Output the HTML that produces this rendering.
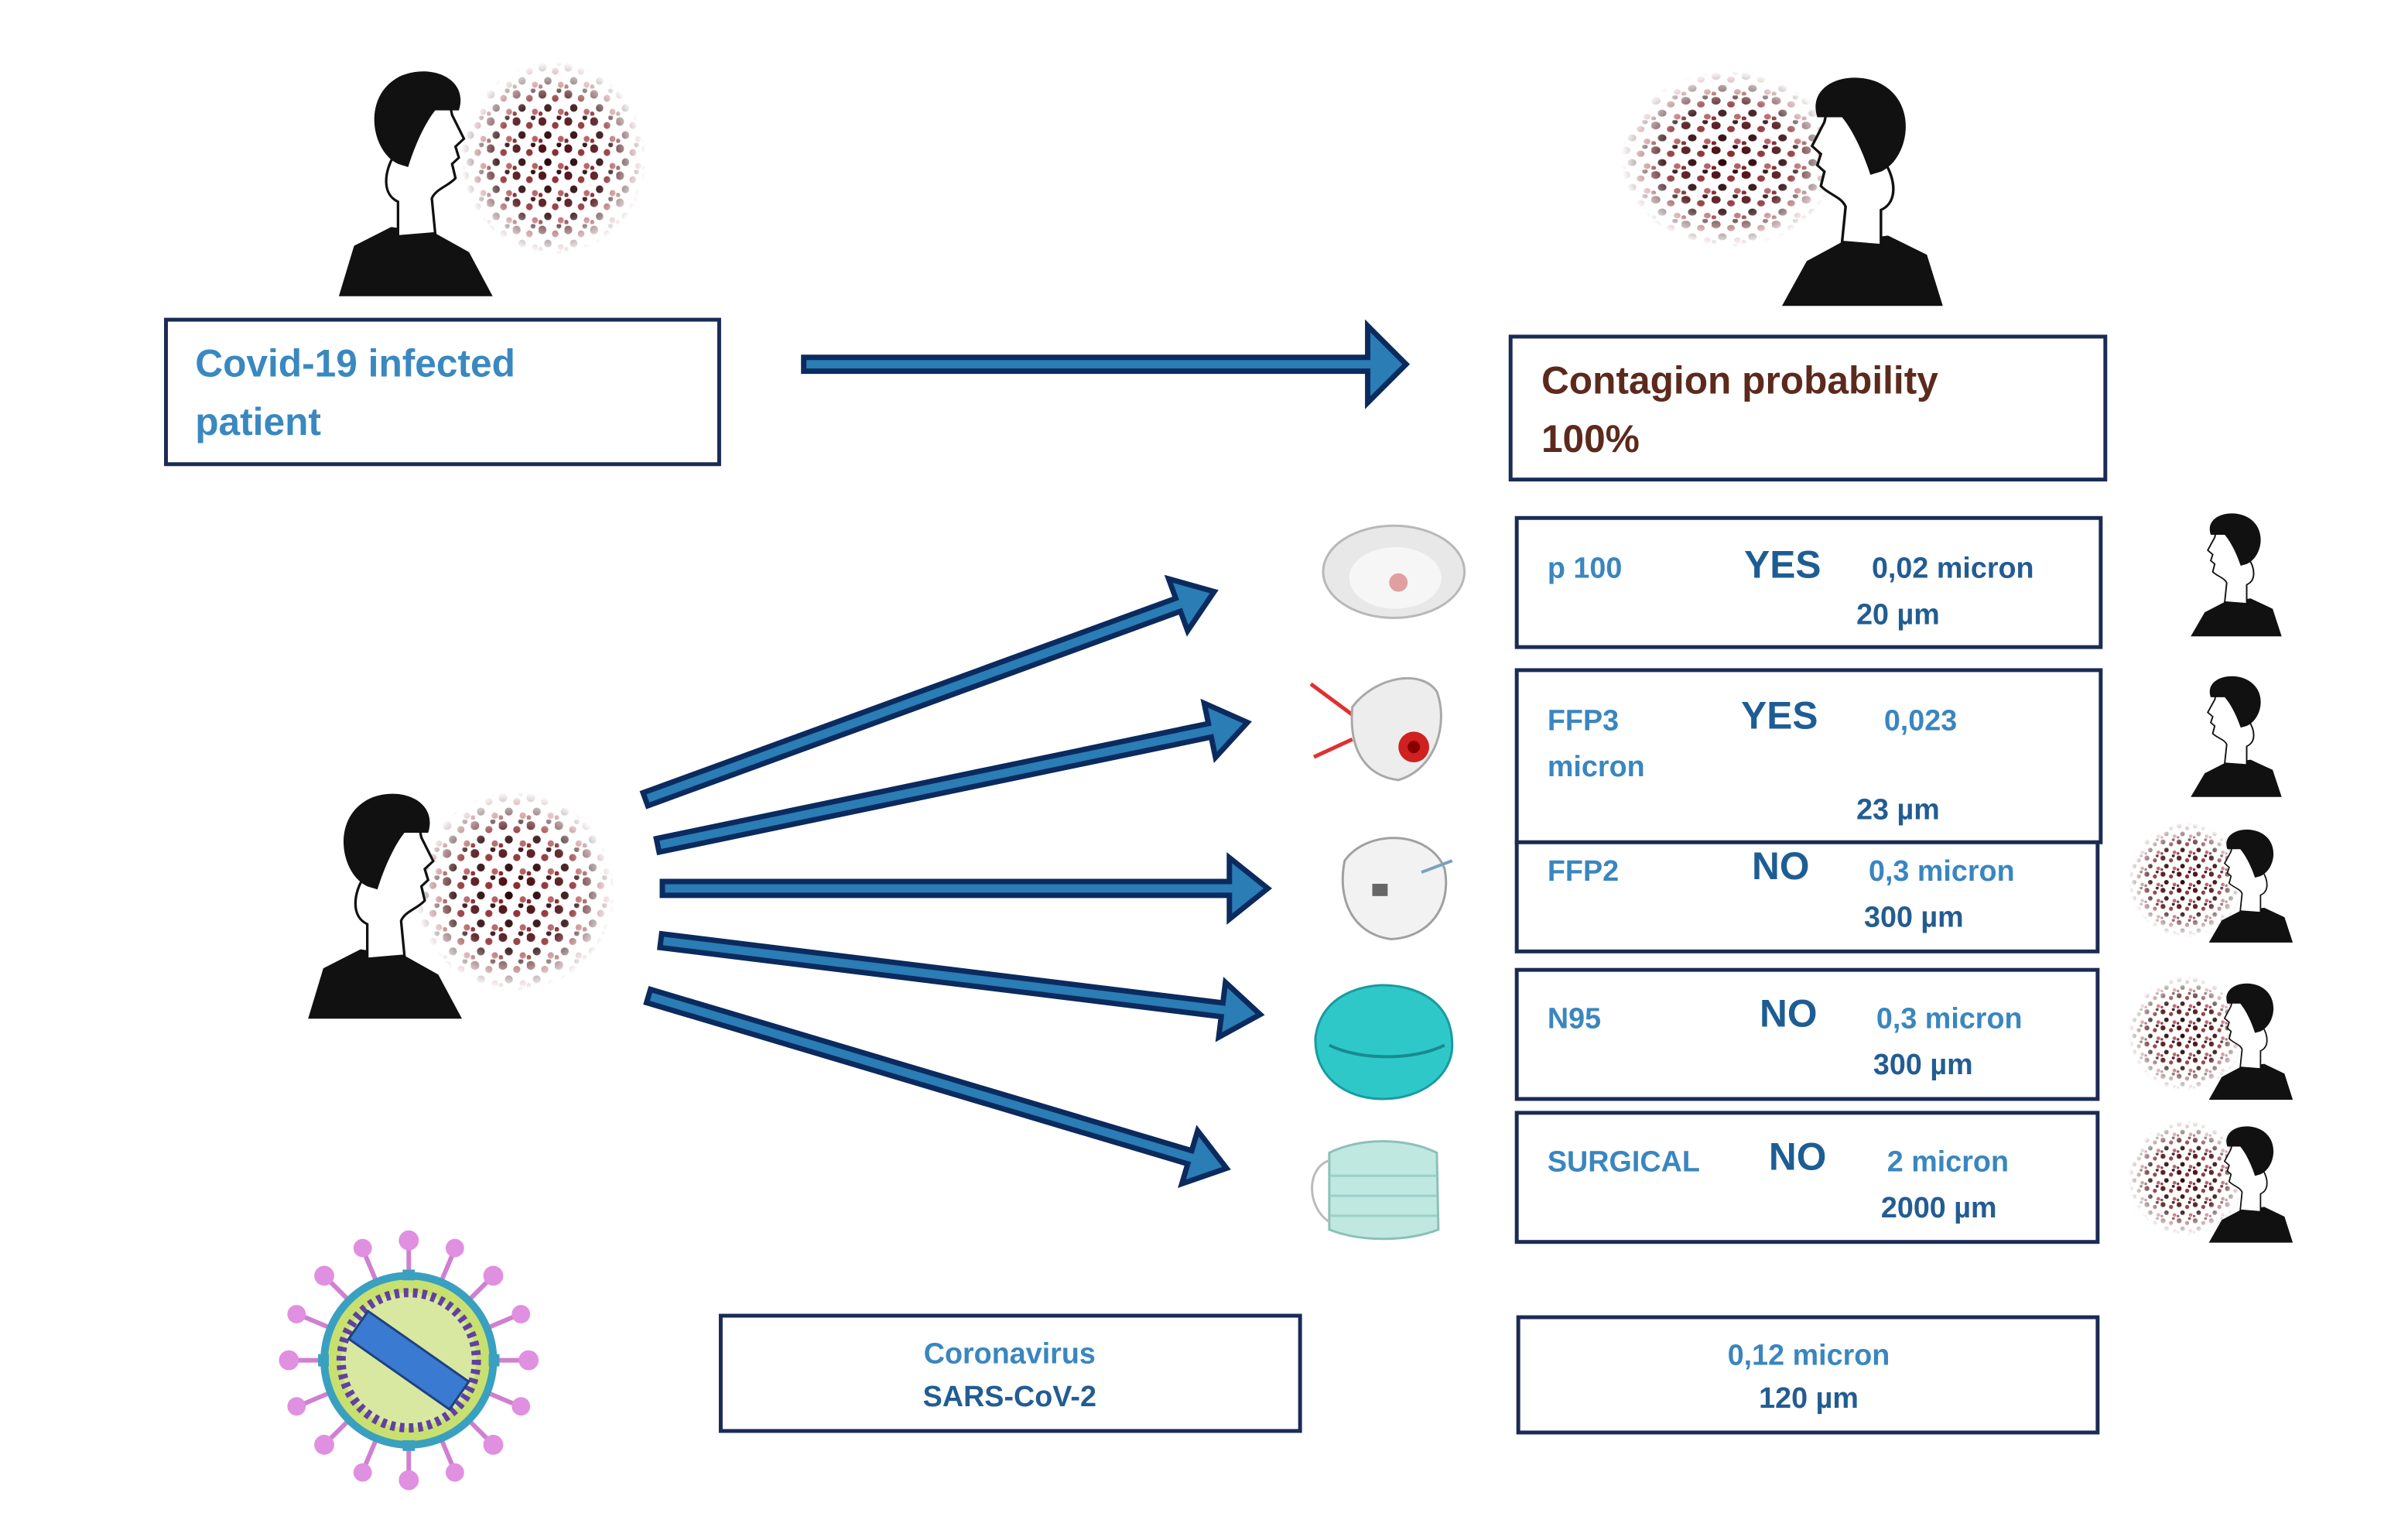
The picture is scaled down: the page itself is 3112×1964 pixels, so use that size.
<!DOCTYPE html>
<html><head><meta charset="utf-8"><style>
html,body{margin:0;padding:0;background:#fff}
svg{display:block}
text{font-family:"Liberation Sans",sans-serif;font-weight:bold}
.lb{fill:#3a86bf;font-size:38px}
.yes{fill:#1e5d94;font-size:50px}
.v{fill:#235c92;font-size:38px}
.bx{fill:#fff;stroke:#1a2b55;stroke-width:5}
.ar{fill:#2a7db5;stroke:#0b2a5e;stroke-width:7;stroke-linejoin:miter}
</style></head><body>
<svg width="3112" height="1964" viewBox="0 0 3112 1964" xmlns="http://www.w3.org/2000/svg">
<defs>
<pattern id="dots" width="14" height="14" patternUnits="userSpaceOnUse">
<circle cx="2" cy="3" r="2.2" fill="#4a0a10"/><circle cx="9" cy="5" r="1.8" fill="#8a2a30"/>
<circle cx="5" cy="10" r="2" fill="#2a0508"/><circle cx="12" cy="12" r="1.6" fill="#b0585c"/>
<circle cx="11" cy="1" r="1.3" fill="#2a0508"/><circle cx="1" cy="13" r="1.2" fill="#7a1a20"/>
</pattern>
<radialGradient id="fade"><stop offset="0" stop-color="#fff" stop-opacity="1"/><stop offset="0.6" stop-color="#fff" stop-opacity="0.85"/><stop offset="1" stop-color="#fff" stop-opacity="0"/></radialGradient>
<mask id="m1" maskContentUnits="objectBoundingBox"><rect width="1" height="1" fill="url(#fade)"/></mask>
<g id="head">
<polygon points="5,150 14,118 36,106 62,110 82,122 96,150" fill="#111"/>
<path d="M40,112 L40,90 C30,85 32,70 38,60 L40,40 C45,25 60,20 70,25 L72,35 L79,50 L74,55 L76,62 L72,66 L74,75 C70,80 62,82 60,88 L62,110 Z" fill="#fff" stroke="#111" stroke-width="1.5"/>
<path d="M40,66 C24,58 18,22 42,10 C60,2 82,12 76,32 L62,32 C56,40 50,54 46,68 Z" fill="#111"/>
</g>
<g id="cloud"><ellipse cx="50" cy="50" rx="50" ry="50" fill="url(#dots)" mask="url(#m1)"/></g>
</defs>
<g transform="scale(0.993)">

<!-- heads -->
<g transform="translate(600,80) scale(1.3,1.2)"><use href="#cloud" transform="scale(1.85,2.1)"/></g>
<g transform="translate(430,78) scale(2.2,2.05)"><use href="#head"/></g>

<g transform="translate(2110,92) scale(2.8,2.3)"><use href="#cloud"/></g>
<g transform="translate(2540,86) scale(-2.3,2.08)"><use href="#head"/></g>

<g transform="translate(540,1030) scale(2.6,2.6)"><use href="#cloud"/></g>
<g transform="translate(390,1018) scale(2.2,2.05)"><use href="#head"/></g>

<g transform="translate(2976,660) scale(-1.3,1.12)"><use href="#head"/></g>
<g transform="translate(2976,872) scale(-1.3,1.1)"><use href="#head"/></g>
<g transform="translate(2770,1070) scale(1.5,1.5)"><use href="#cloud"/></g>
<g transform="translate(2990,1072) scale(-1.2,1.03)"><use href="#head"/></g>
<g transform="translate(2770,1270) scale(1.5,1.5)"><use href="#cloud"/></g>
<g transform="translate(2990,1272) scale(-1.2,1.06)"><use href="#head"/></g>
<g transform="translate(2770,1458) scale(1.5,1.5)"><use href="#cloud"/></g>
<g transform="translate(2990,1458) scale(-1.2,1.06)"><use href="#head"/></g>

<!-- boxes -->
<rect class="bx" x="216" y="416" width="720" height="188"/>
<text x="254" y="490" style="fill:#3a88c0;font-size:50px">Covid-19 infected</text>
<text x="254" y="566" style="fill:#3a88c0;font-size:50px">patient</text>

<rect class="bx" x="1966" y="438" width="774" height="186"/>
<text x="2006" y="512" style="fill:#5c2a1c;font-size:50px">Contagion probability</text>
<text x="2006" y="588" style="fill:#5c2a1c;font-size:50px">100%</text>

<rect class="bx" x="1974" y="674" width="760" height="168"/>
<text class="lb" x="2014" y="752">p 100</text><text class="yes" x="2270" y="752">YES</text>
<text class="v" x="2436" y="752">0,02 micron</text><text class="v" x="2416" y="812">20 µm</text>

<rect class="bx" x="1974" y="872" width="760" height="224"/>
<text class="lb" x="2014" y="950">FFP3</text><text class="lb" x="2014" y="1010">micron</text>
<text class="yes" x="2266" y="948">YES</text><text class="lb" x="2452" y="950">0,023</text>
<text class="v" x="2416" y="1066">23 µm</text>

<rect class="bx" x="1974" y="1096" width="756" height="142"/>
<text class="lb" x="2014" y="1146">FFP2</text><text class="yes" x="2280" y="1144">NO</text>
<text class="lb" x="2432" y="1146">0,3 micron</text><text class="v" x="2426" y="1206">300 µm</text>

<rect class="bx" x="1974" y="1262" width="756" height="168"/>
<text class="lb" x="2014" y="1338">N95</text><text class="yes" x="2290" y="1336">NO</text>
<text class="lb" x="2442" y="1338">0,3 micron</text><text class="v" x="2438" y="1398">300 µm</text>

<rect class="bx" x="1974" y="1448" width="756" height="168"/>
<text class="lb" x="2014" y="1524">SURGICAL</text><text class="yes" x="2302" y="1522">NO</text>
<text class="lb" x="2456" y="1524">2 micron</text><text class="v" x="2448" y="1584">2000 µm</text>

<rect class="bx" x="938" y="1712" width="754" height="150"/>
<text class="lb" x="1314" y="1774" text-anchor="middle">Coronavirus</text>
<text class="v" x="1314" y="1830" text-anchor="middle">SARS-CoV-2</text>
<rect class="bx" x="1976" y="1714" width="754" height="150"/>
<text class="lb" x="2354" y="1776" text-anchor="middle">0,12 micron</text>
<text class="v" x="2354" y="1832" text-anchor="middle">120 µm</text>

<!-- arrows -->
<g transform="translate(1046,474)"><polygon class="ar" points="0,-9 734,-9 734,-50 784,0 734,50 734,9 0,9"/></g>
<g transform="translate(840,1040) rotate(-20.05)"><polygon class="ar" points="0,-9 738,-9 738,-36 788,0 738,36 738,9 0,9"/></g>
<g transform="translate(856,1100) rotate(-11.77)"><polygon class="ar" points="0,-9 734,-9 734,-36 784,0 734,36 734,9 0,9"/></g>
<g transform="translate(862,1156)"><polygon class="ar" points="0,-9 738,-9 738,-40 788,0 738,40 738,9 0,9"/></g>
<g transform="translate(860,1224) rotate(7.02)"><polygon class="ar" points="0,-9 736,-9 736,-36 786,0 736,36 736,9 0,9"/></g>
<g transform="translate(844,1296) rotate(16.59)"><polygon class="ar" points="0,-9 735,-9 735,-36 785,0 735,36 735,9 0,9"/></g>

<!-- masks -->
<ellipse cx="1814" cy="744" rx="92" ry="60" fill="#e8e8e8" stroke="#b8b8b8" stroke-width="3"/>
<ellipse cx="1816" cy="752" rx="60" ry="40" fill="#f6f6f6"/>
<circle cx="1820" cy="758" r="12" fill="#e0a0a0"/>

<line x1="1706" y1="890" x2="1760" y2="930" stroke="#e03030" stroke-width="5"/>
<line x1="1710" y1="985" x2="1760" y2="962" stroke="#e03030" stroke-width="5"/>
<path d="M1760,920 C1790,880 1850,870 1870,900 C1885,940 1870,1000 1820,1015 C1780,1010 1755,980 1760,920 Z" fill="#ededed" stroke="#a8a8a8" stroke-width="3"/>
<circle cx="1840" cy="972" r="20" fill="#d02020"/><circle cx="1840" cy="972" r="8" fill="#800"/>

<path d="M1750,1120 C1780,1078 1860,1080 1880,1130 C1890,1180 1860,1220 1810,1222 C1760,1215 1740,1170 1750,1120 Z" fill="#f2f2f2" stroke="#a0a0a0" stroke-width="3"/>
<rect x="1786" y="1150" width="20" height="16" fill="#666"/>
<line x1="1850" y1="1135" x2="1890" y2="1120" stroke="#7aa0c0" stroke-width="4"/>

<path d="M1712,1350 C1720,1290 1780,1282 1800,1282 C1840,1282 1890,1300 1890,1360 C1890,1400 1850,1430 1800,1430 C1750,1430 1710,1400 1712,1350 Z" fill="#2ec8c8" stroke="#1a9aa0" stroke-width="3"/>
<path d="M1730,1360 C1770,1380 1840,1380 1880,1360" stroke="#188a90" stroke-width="4" fill="none"/>

<path d="M1730,1500 C1770,1480 1830,1480 1870,1500 L1872,1600 C1830,1616 1770,1616 1730,1600 Z" fill="#bfe8e0" stroke="#8cc0b8" stroke-width="3"/>
<path d="M1732,1530 L1870,1530 M1732,1556 L1870,1556 M1732,1582 L1870,1582" stroke="#9ad0c8" stroke-width="3"/>
<path d="M1730,1510 C1700,1520 1700,1570 1730,1590" stroke="#bbb" stroke-width="3" fill="none"/>

<!-- virus -->
<g transform="translate(532,1770)" stroke="#d080d0" stroke-width="6">
<line x1="0" y1="-110" x2="0" y2="-150"/><line x1="0" y1="110" x2="0" y2="150"/>
<line x1="-110" y1="0" x2="-150" y2="0"/><line x1="110" y1="0" x2="150" y2="0"/>
<line x1="78" y1="78" x2="106" y2="106"/><line x1="-78" y1="78" x2="-106" y2="106"/>
<line x1="78" y1="-78" x2="106" y2="-106"/><line x1="-78" y1="-78" x2="-106" y2="-106"/>
<line x1="42" y1="-102" x2="58" y2="-140"/><line x1="-42" y1="-102" x2="-58" y2="-140"/>
<line x1="42" y1="102" x2="58" y2="140"/><line x1="-42" y1="102" x2="-58" y2="140"/>
<line x1="102" y1="42" x2="140" y2="58"/><line x1="-102" y1="42" x2="-140" y2="58"/>
<line x1="102" y1="-42" x2="140" y2="-58"/><line x1="-102" y1="-42" x2="-140" y2="-58"/>
<g fill="#e090e0" stroke="none">
<circle cx="0" cy="-156" r="13"/><circle cx="0" cy="156" r="13"/><circle cx="-156" cy="0" r="13"/><circle cx="156" cy="0" r="13"/>
<circle cx="110" cy="110" r="13"/><circle cx="-110" cy="110" r="13"/><circle cx="110" cy="-110" r="13"/><circle cx="-110" cy="-110" r="13"/>
<circle cx="60" cy="-146" r="12"/><circle cx="-60" cy="-146" r="12"/><circle cx="60" cy="146" r="12"/><circle cx="-60" cy="146" r="12"/>
<circle cx="146" cy="60" r="12"/><circle cx="-146" cy="60" r="12"/><circle cx="146" cy="-60" r="12"/><circle cx="-146" cy="-60" r="12"/>
</g>
<circle r="110" fill="#c8e070" stroke="#3aa0c0" stroke-width="10"/>
<circle r="88" fill="#d8e8a0" stroke="#6040a0" stroke-width="12" stroke-dasharray="6 6"/>
<g fill="#3aa0c0" stroke="none">
<rect x="-8" y="-118" width="16" height="14"/><rect x="-8" y="104" width="16" height="14"/>
<rect x="-118" y="-8" width="14" height="16"/><rect x="104" y="-8" width="14" height="16"/>
</g>
<rect x="-80" y="-22" width="160" height="44" fill="#3a7ad0" stroke="#204080" stroke-width="3" transform="rotate(35)"/>
</g>
</g>
</svg>
</body></html>
